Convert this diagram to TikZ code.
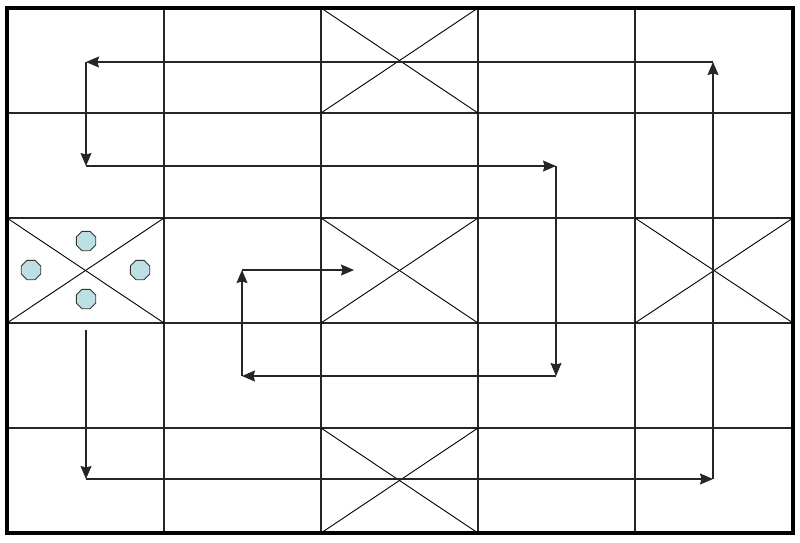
\documentclass[tikz,border=0pt]{standalone}
\usetikzlibrary{shapes.geometric,arrows.meta}
\definecolor{octfill}{HTML}{BDE0E4}
\definecolor{octdraw}{HTML}{333333}
\tikzset{
  gridline/.style={line width=1.1pt, draw=black!85},
  crossline/.style={line width=0.9pt, draw=black},
  border/.style={line width=3.5pt, draw=black},
  flow/.style={line width=1.1pt, draw=black!85, -{Stealth[length=13pt,width=11pt,inset=1.5pt]}},
  oct/.style={regular polygon, regular polygon sides=8, minimum size=21pt, inner sep=0pt, fill=octfill, draw=octdraw, line width=0.9pt},
}
\begin{document}
\begin{tikzpicture}[x=1pt,y=-1pt]
\useasboundingbox (0,0) rectangle (800,542);
% grid
\foreach \x in {164,321,478,635} \draw[gridline] (\x,8) -- (\x,533);
\foreach \y in {113,218,323,428} \draw[gridline] (7,\y) -- (793,\y);
% crossed cells
\foreach \cx/\cy in {321/8, 321/218, 321/428} {
  \draw[crossline] (\cx,\cy) -- ++(157,105);
  \draw[crossline] (\cx,\cy+105) -- ++(157,-105);
}
\draw[crossline] (7,218) -- (164,323);
\draw[crossline] (7,323) -- (164,218);
\draw[crossline] (635,218) -- (793,323);
\draw[crossline] (635,323) -- (793,218);
\draw[border] (7,8) rectangle (793,533);
% octagons
\node[oct] (o1) at (86,241) {};
\node[oct] (o2) at (31,270) {};
\node[oct] (o3) at (140,270) {};
\node[oct] (o4) at (86,299) {};
% path coordinates
\coordinate (a1) at (713,479);
\coordinate (a2) at (713,62);
\coordinate (a3) at (86,62);
\coordinate (a4) at (86,166);
\coordinate (a5) at (556,166);
\coordinate (a6) at (556,376);
\coordinate (a7) at (242,376);
\coordinate (a8) at (242,270);
\coordinate (a9) at (354,270);
\coordinate (b0) at (86,330);
\coordinate (b1) at (86,479);
% arrows
\draw[flow] (a1) -- (a2);
\draw[flow] (a2) -- (a3);
\draw[flow] (a3) -- (a4);
\draw[flow] (a4) -- (a5);
\draw[flow] (a5) -- (a6);
\draw[flow] (a6) -- (a7);
\draw[flow] (a7) -- (a8);
\draw[flow] (a8) -- (a9);
\draw[flow] (b0) -- (b1);
\draw[flow] (b1) -- (a1);
\end{tikzpicture}
\end{document}
